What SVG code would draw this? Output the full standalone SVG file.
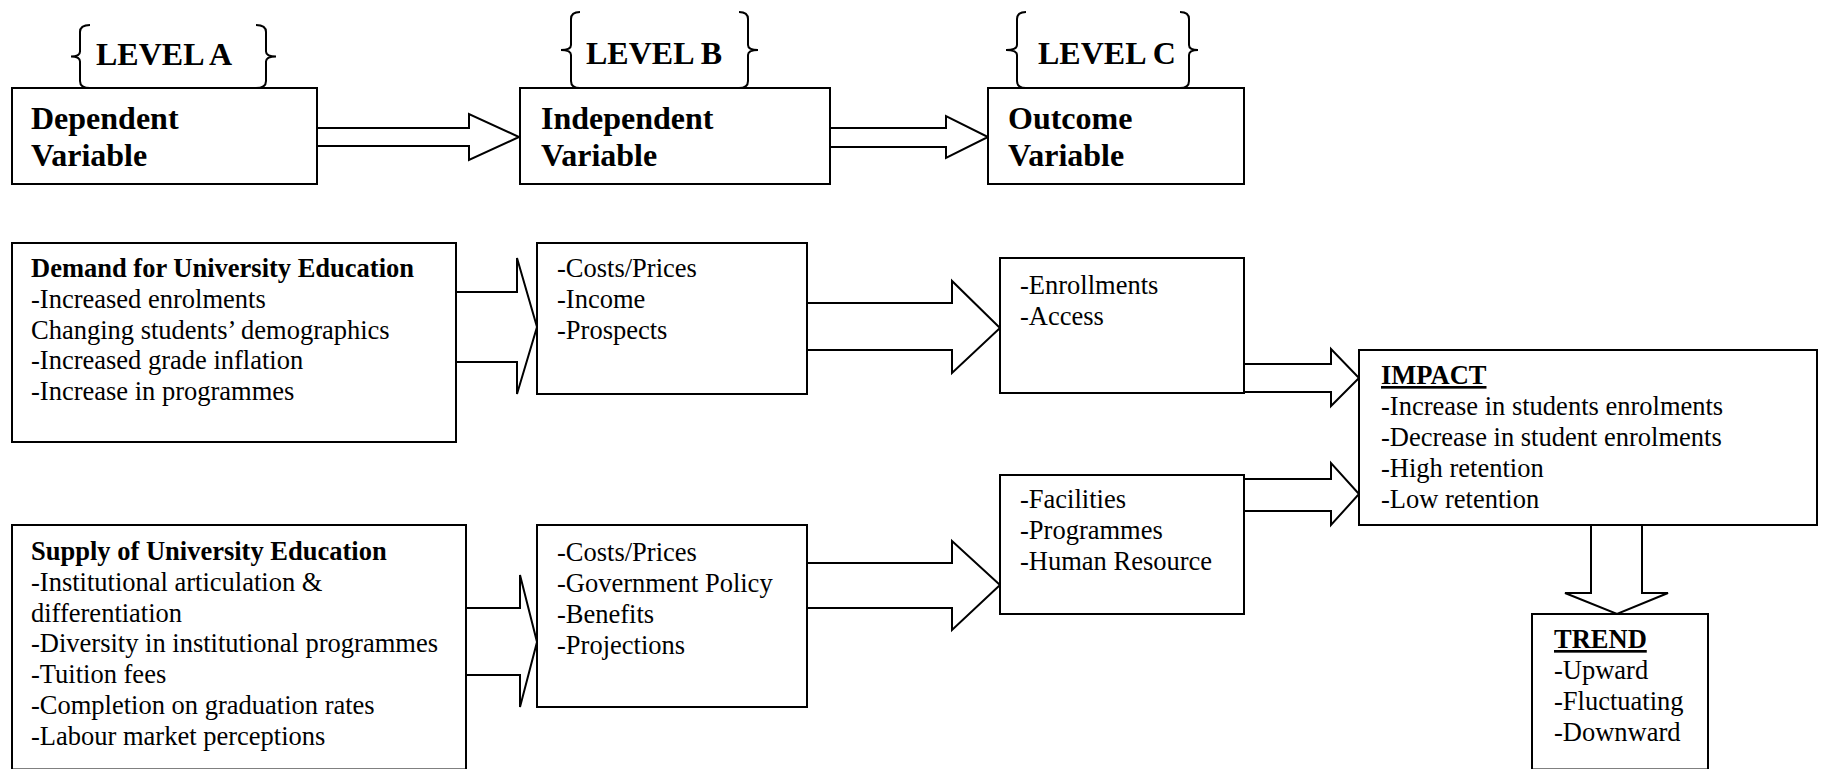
<svg xmlns="http://www.w3.org/2000/svg" width="1823" height="769" viewBox="0 0 1823 769">
<style>
.box{fill:#fff;stroke:#000;stroke-width:2}
.arr{fill:#fff;stroke:#000;stroke-width:2;stroke-linejoin:miter}
.brace{fill:none;stroke:#000;stroke-width:2}
.hd{font-family:"Liberation Serif","Times New Roman",serif;font-size:32px;font-weight:bold;fill:#000}
.t{font-family:"Liberation Serif","Times New Roman",serif;font-size:26.5px;fill:#000}
.b{font-weight:bold}
.u{text-decoration:underline}
</style>
<rect width="1823" height="769" fill="#fff"/>
<g id="connectors">
<path class="arr" d="M317,128 H469 V114 L519,137 L469,160 V146 H317"/>
<path class="arr" d="M830,128 H946 V116 L988,137 L946,158 V147 H830"/>
<path class="arr" d="M456,292 H517 V258 L537,327 L517,394 V362 H456"/>
<path class="arr" d="M807,303 H952 V281 L1000,328 L952,373 V350 H807"/>
<path class="arr" d="M1244,364 H1331 V349 L1359,378 L1331,406 V392 H1244"/>
<path class="arr" d="M1244,479 H1331 V463 L1359,494 L1331,525 V511 H1244"/>
<path class="arr" d="M466,608 H520 V575 L537,642 L520,707 V675 H466"/>
<path class="arr" d="M807,563 H952 V541 L1000,585 L952,630 V608 H807"/>
<path class="arr" d="M1591,525 V593 H1565 L1617,614 L1668,593 H1642 V525"/>
</g>
<g id="levelA">
<path class="brace" d="M90,25 Q80,25 80,32 L80,51.5 Q80,56.5 71,56.5 Q80,56.5 80,61.5 L80,81 Q80,88 90,88"/>
<path class="brace" d="M256,25 Q266,25 266,32 L266,51.5 Q266,56.5 276,56.5 Q266,56.5 266,61.5 L266,81 Q266,88 256,88"/>
<text class="hd" x="96" y="65">LEVEL A</text>
</g>
<g id="levelB">
<path class="brace" d="M580,12 Q571,12 571,19 L571,45 Q571,50 561,50 Q571,50 571,55 L571,81 Q571,88 580,88"/>
<path class="brace" d="M739,12 Q748,12 748,19 L748,45 Q748,50 758,50 Q748,50 748,55 L748,81 Q748,88 739,88"/>
<text class="hd" x="586" y="64">LEVEL B</text>
</g>
<g id="levelC">
<path class="brace" d="M1026,12 Q1017,12 1017,19 L1017,45 Q1017,50 1006,50 Q1017,50 1017,55 L1017,81 Q1017,88 1026,88"/>
<path class="brace" d="M1180,12 Q1189,12 1189,19 L1189,45 Q1189,50 1198,50 Q1189,50 1189,55 L1189,81 Q1189,88 1180,88"/>
<text class="hd" x="1038" y="64">LEVEL C</text>
</g>
<g id="dependent">
<rect class="box" x="12" y="88" width="305" height="96"/>
<text class="hd" x="31" y="129">Dependent</text>
<text class="hd" x="31" y="166">Variable</text>
</g>
<g id="independent">
<rect class="box" x="520" y="88" width="310" height="96"/>
<text class="hd" x="541" y="129">Independent</text>
<text class="hd" x="541" y="166">Variable</text>
</g>
<g id="outcome">
<rect class="box" x="988" y="88" width="256" height="96"/>
<text class="hd" x="1008" y="129">Outcome</text>
<text class="hd" x="1008" y="166">Variable</text>
</g>
<g id="demand">
<rect class="box" x="12" y="243" width="444" height="199"/>
<text class="t b" x="31" y="277">Demand for University Education</text>
<text class="t" x="31" y="308">-Increased enrolments</text>
<text class="t" x="31" y="339">Changing students’ demographics</text>
<text class="t" x="31" y="369">-Increased grade inflation</text>
<text class="t" x="31" y="400">-Increase in programmes</text>
</g>
<g id="costs1">
<rect class="box" x="537" y="243" width="270" height="151"/>
<text class="t" x="557" y="277">-Costs/Prices</text>
<text class="t" x="557" y="308">-Income</text>
<text class="t" x="557" y="339">-Prospects</text>
</g>
<g id="enrollments">
<rect class="box" x="1000" y="258" width="244" height="135"/>
<text class="t" x="1020" y="294">-Enrollments</text>
<text class="t" x="1020" y="325">-Access</text>
</g>
<g id="impact">
<rect class="box" x="1359" y="350" width="458" height="175"/>
<text class="t b u" x="1381" y="384">IMPACT</text>
<text class="t" x="1381" y="415">-Increase in students enrolments</text>
<text class="t" x="1381" y="446">-Decrease in student enrolments</text>
<text class="t" x="1381" y="477">-High retention</text>
<text class="t" x="1381" y="508">-Low retention</text>
</g>
<g id="facilities">
<rect class="box" x="1000" y="475" width="244" height="139"/>
<text class="t" x="1020" y="508">-Facilities</text>
<text class="t" x="1020" y="539">-Programmes</text>
<text class="t" x="1020" y="570">-Human Resource</text>
</g>
<g id="supply">
<rect class="box" x="12" y="525" width="454" height="244.5"/>
<text class="t b" x="31" y="560">Supply of University Education</text>
<text class="t" x="31" y="591">-Institutional articulation &amp;</text>
<text class="t" x="31" y="622">differentiation</text>
<text class="t" x="31" y="652">-Diversity in institutional programmes</text>
<text class="t" x="31" y="683">-Tuition fees</text>
<text class="t" x="31" y="714">-Completion on graduation rates</text>
<text class="t" x="31" y="745">-Labour market perceptions</text>
</g>
<g id="costs2">
<rect class="box" x="537" y="525" width="270" height="182"/>
<text class="t" x="557" y="561">-Costs/Prices</text>
<text class="t" x="557" y="592">-Government Policy</text>
<text class="t" x="557" y="623">-Benefits</text>
<text class="t" x="557" y="654">-Projections</text>
</g>
<g id="trend">
<rect class="box" x="1532" y="614" width="176" height="155.5"/>
<text class="t b u" x="1554" y="648">TREND</text>
<text class="t" x="1554" y="679">-Upward</text>
<text class="t" x="1554" y="710">-Fluctuating</text>
<text class="t" x="1554" y="741">-Downward</text>
</g>
</svg>
